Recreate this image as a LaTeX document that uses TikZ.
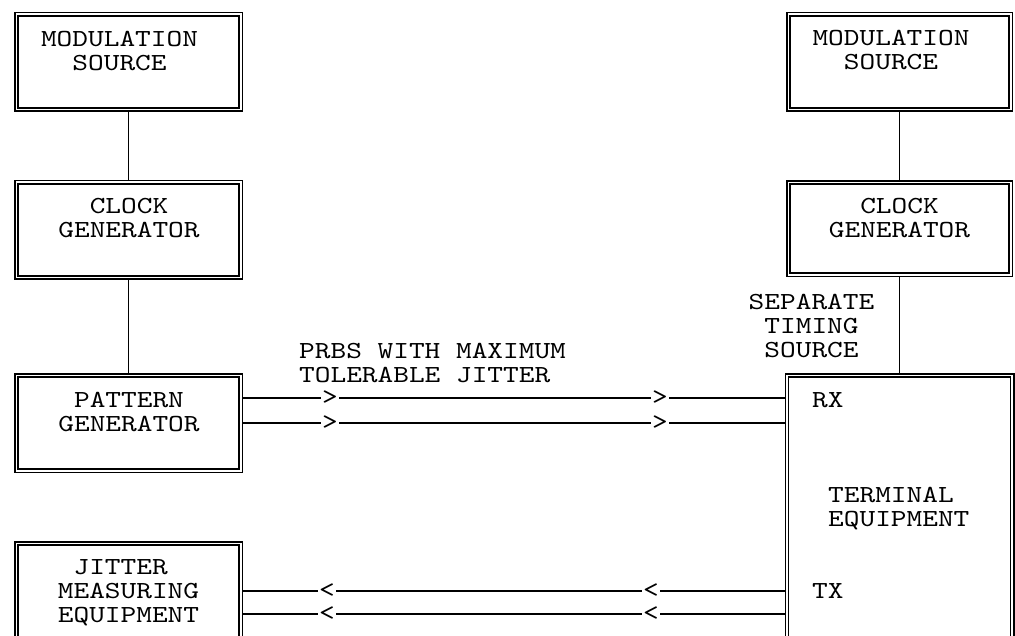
\documentclass[tikz,border=0pt]{standalone}
\usepackage{fontspec}
\setmonofont{lmmono10-regular.otf}[FakeStretch=1.22]
\begin{document}
\begin{tikzpicture}[x=1pt,y=-1pt,
  font=\ttfamily\fontsize{24.5pt}{24pt}\selectfont,
  box/.style={draw, double, double distance=1.9pt, line width=1.5pt, inner sep=0pt, outer sep=2.45pt},
  lbl/.style={inner sep=0pt, align=center},
  conn/.style={line width=1.8pt},
  arr/.style={inner sep=1pt}]
\useasboundingbox (0,0) rectangle (1015,636);
\clip (0,0) rectangle (1015,636);
% left column
\node[box, minimum width=224.1pt, minimum height=95.1pt] (ms1) at (128.5,62) {};
\node[box, minimum width=224.1pt, minimum height=95.1pt] (cg1) at (128.5,230) {};
\node[box, minimum width=224.1pt, minimum height=95.1pt] (pg) at (128.5,423) {};
\node[box, minimum width=224.1pt, minimum height=154.1pt] (jm) at (128.5,620.5) {};
% right column
\node[box, minimum width=222.1pt, minimum height=95.1pt] (ms2) at (899.5,62) {};
\node[box, minimum width=222.1pt, minimum height=92.4pt] (cg2) at (899.5,228.7) {};
\node[box, minimum width=225.1pt, minimum height=322.1pt] (te) at (899.5,536.5) {};
% texts
\node[lbl, anchor=north] (tms1) at (119.5,31) {MODULATION\\SOURCE};
\node[lbl, anchor=north] (tcg1) at (129,198) {CLOCK\\GENERATOR};
\node[lbl, anchor=north] (tpg) at (129,392) {PATTERN\\GENERATOR};
\node[lbl, anchor=north] (tjm) at (128.5,559) {JITTER\phantom{X}\\MEASURING\\EQUIPMENT};
\node[lbl, anchor=north] (tms2) at (891,30) {MODULATION\\SOURCE};
\node[lbl, anchor=north] (tcg2) at (899.5,198) {CLOCK\\GENERATOR};
\node[lbl, align=left, anchor=north west] (prbs) at (299,343) {PRBS WITH MAXIMUM\\TOLERABLE JITTER};
\node[lbl, anchor=north] (sts) at (811.5,294) {SEPARATE\\TIMING\\SOURCE};
\node[lbl, anchor=north west] (rx) at (812,392) {RX};
\node[lbl, anchor=north west] (tx) at (812,583) {TX};
\node[lbl, align=left, anchor=north west] (tte) at (828,487) {TERMINAL\\EQUIPMENT};
% vertical connectors
\draw[conn] (ms1) -- (cg1);
\draw[conn] (cg1) -- (pg);
\draw[conn] (ms2) -- (cg2);
\draw[conn] (cg2) -- (te);
% direction marks
\node[arr] (a1) at (330,398) {>};
\node[arr] (a2) at (660,398) {>};
\node[arr] (a3) at (330,423) {>};
\node[arr] (a4) at (660,423) {>};
\node[arr] (b1) at (327,591) {<};
\node[arr] (b2) at (651,591) {<};
\node[arr] (b3) at (327,614) {<};
\node[arr] (b4) at (651,614) {<};
% horizontal connectors
\draw[conn] (pg.east |- a1) -- (a1) -- (a2) -- (te.west |- a2);
\draw[conn] (pg.east |- a3) -- (a3) -- (a4) -- (te.west |- a4);
\draw[conn] (te.west |- b2) -- (b2) -- (b1) -- (jm.east |- b1);
\draw[conn] (te.west |- b4) -- (b4) -- (b3) -- (jm.east |- b3);
\end{tikzpicture}
\end{document}
